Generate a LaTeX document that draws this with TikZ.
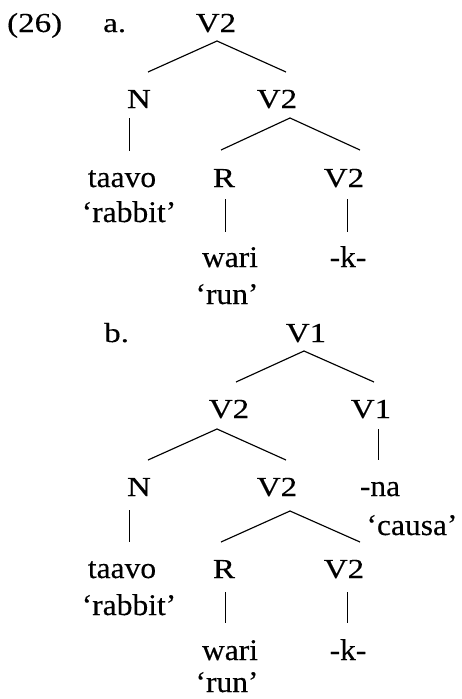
\documentclass[tikz,border=0pt]{standalone}
\usepackage{fontspec}
\setmainfont{Liberation Serif}[FakeBold=0.3]
\usepackage{graphicx}
\newcommand{\Lb}[1]{\scalebox{1.2}[1]{#1}}
\newcommand{\Wd}[1]{\scalebox{1.05}[1]{#1}}
\begin{document}
\begin{tikzpicture}[x=1pt,y=-1pt,
  lab/.style={anchor=base,inner sep=0pt,font=\fontsize{27.5}{31}\selectfont},
  labw/.style={anchor=base west,inner sep=0pt,font=\fontsize{27.5}{31}\selectfont},
  word/.style={anchor=base,inner sep=0pt,font=\fontsize{30}{34}\selectfont},
  edge/.style={line width=1.15pt,black}]
\useasboundingbox (0,0) rectangle (462,699);
% ---- (26) a.
\node[labw] (num) at (7,32) {\Lb{(26)}};
\node[labw] (la) at (103,32) {\Lb{a.}};
\node[lab] (aV2) at (216,32) {\Lb{V2}};
\node[lab] (aN) at (139,108) {\Lb{N}};
\node[lab] (aV2b) at (277,108) {\Lb{V2}};
\node[word] (ataavo) at (122,187) {\Wd{taavo}};
\node[word] (arabbit) at (129,222) {\Wd{‘rabbit’}};
\node[lab] (aR) at (224,187) {\Lb{R}};
\node[lab] (aV2c) at (344,187) {\Lb{V2}};
\node[word] (awari) at (230,267) {\Wd{wari}};
\node[word] (ak) at (348,267) {\Wd{-k-}};
\node[word] (arun) at (227,304) {\Wd{‘run’}};
\draw[edge] ([shift={(1,9)}]aV2.base) -- ([shift={(9,-36)}]aN.base);
\draw[edge] ([shift={(1,9)}]aV2.base) -- ([shift={(9,-36)}]aV2b.base);
\draw[edge] ([shift={(-9.5,10)}]aN.base) -- ([shift={(7.5,-36)}]ataavo.base);
\draw[edge] ([shift={(13,10)}]aV2b.base) -- ([shift={(-3,-37)}]aR.base);
\draw[edge] ([shift={(13,10)}]aV2b.base) -- ([shift={(16,-37)}]aV2c.base);
\draw[edge] ([shift={(1.5,12)}]aR.base) -- ([shift={(-4.5,-35)}]awari.base);
\draw[edge] ([shift={(3.5,12)}]aV2c.base) -- ([shift={(-0.5,-35)}]ak.base);
% ---- b.
\node[labw] (lb) at (104,342) {\Lb{b.}};
\node[lab] (bV1) at (306,342) {\Lb{V1}};
\node[lab] (bV2) at (229,418) {\Lb{V2}};
\node[lab] (bV1b) at (371,418) {\Lb{V1}};
\node[lab] (bN) at (139,496) {\Lb{N}};
\node[lab] (bV2b) at (277,496) {\Lb{V2}};
\node[word] (bna) at (380,496) {\Wd{-na}};
\node[word] (bcausa) at (412,535) {\Wd{‘causa’}};
\node[word] (btaavo) at (122,578) {\Wd{taavo}};
\node[word] (brabbit) at (129,615) {\Wd{‘rabbit’}};
\node[lab] (bR) at (224,578) {\Lb{R}};
\node[lab] (bV2c) at (344,578) {\Lb{V2}};
\node[word] (bwari) at (230,660) {\Wd{wari}};
\node[word] (bk) at (348,660) {\Wd{-k-}};
\node[word] (brun) at (227,692) {\Wd{‘run’}};
\draw[edge] ([shift={(-2,9)}]bV1.base) -- ([shift={(7,-36)}]bV2.base);
\draw[edge] ([shift={(-2,9)}]bV1.base) -- ([shift={(3,-36)}]bV1b.base);
\draw[edge] ([shift={(-12,11)}]bV2.base) -- ([shift={(9,-36)}]bN.base);
\draw[edge] ([shift={(-12,11)}]bV2.base) -- ([shift={(9,-36)}]bV2b.base);
\draw[edge] ([shift={(7.5,11)}]bV1b.base) -- ([shift={(-1.5,-36)}]bna.base);
\draw[edge] ([shift={(-9.5,14)}]bN.base) -- ([shift={(7.5,-36)}]btaavo.base);
\draw[edge] ([shift={(13,15)}]bV2b.base) -- ([shift={(-3,-36)}]bR.base);
\draw[edge] ([shift={(13,15)}]bV2b.base) -- ([shift={(16,-36)}]bV2c.base);
\draw[edge] ([shift={(1.5,14)}]bR.base) -- ([shift={(-4.5,-37)}]bwari.base);
\draw[edge] ([shift={(3.5,14)}]bV2c.base) -- ([shift={(-0.5,-37)}]bk.base);
\end{tikzpicture}
\end{document}
